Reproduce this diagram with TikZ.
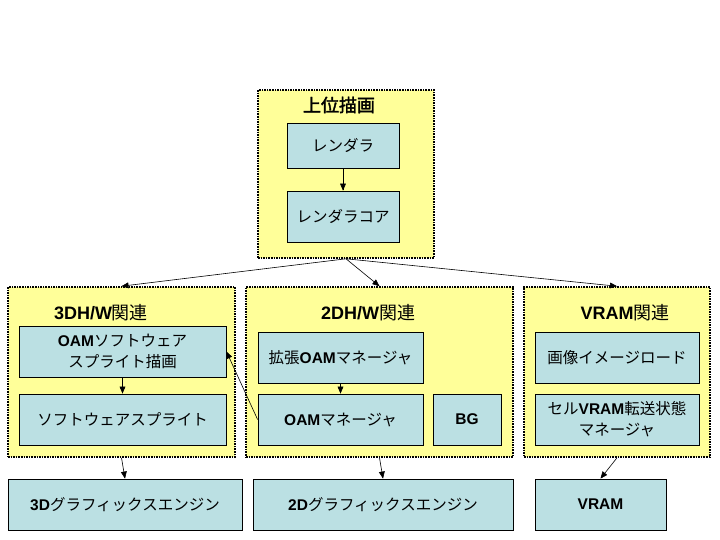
\documentclass[tikz,border=0pt]{standalone}
\usepackage{fontspec}
\setmainfont{Noto Sans CJK JP}[AutoFakeBold=2]
\newfontfamily\latinfont{Liberation Sans}
\usepackage{tikz}
\usetikzlibrary{arrows}
\definecolor{grpyellow}{HTML}{FFFF99}
\definecolor{itemblue}{HTML}{BBE0E3}
\newcommand{\en}[1]{{\latinfont\bfseries #1}}
\tikzset{%
  myedge/.style={->, >=triangle 45, line width=0.6pt},
  grpbox/.style={draw=black, densely dotted, line width=1.6pt, fill=grpyellow, inner sep=0pt},
  itembox/.style={draw=black, line width=0.8pt, fill=itemblue, align=center, inner sep=0pt,
    font=\fontsize{15.5}{21}\selectfont},
  grptitle/.style={font=\fontsize{18}{21}\selectfont}
}

\begin{document}
\begin{tikzpicture}[x=1pt, y=-1pt]
  \useasboundingbox (0,0) rectangle (720,540);

% グループ
\node [grpbox, minimum width=176, minimum height=168] (G0) at (346,174) {};
\node [grpbox, minimum width=227, minimum height=170] (G3) at (121.5,372) {};
\node [grpbox, minimum width=267, minimum height=170] (G2) at (379.5,372) {};
\node [grpbox, minimum width=186, minimum height=170] (GV) at (617,372) {};

\node [grptitle] at (339,105) {\bfseries 上位描画};
\node [grptitle] at (101,313) {\en{3DH/W}関連};
\node [grptitle] at (368,313) {\en{2DH/W}関連};
\node [grptitle] at (625,313) {\en{VRAM}関連};

% 上位描画
\node [itembox, minimum width=112, minimum height=45] (R1) at (343,145.5) {レンダラ};
\node [itembox, minimum width=112, minimum height=51] (R2) at (343,216.5) {レンダラコア};

% 3D
\node [itembox, minimum width=207, minimum height=51] (S1) at (122.5,351.5) {\en{OAM}ソフトウェア\\スプライト描画};
\node [itembox, minimum width=207, minimum height=51] (S2) at (122.5,419.5) {ソフトウェアスプライト};

% 2D
\node [itembox, minimum width=165, minimum height=51] (M1) at (340.5,357.5) {拡張\en{OAM}マネージャ};
\node [itembox, minimum width=165, minimum height=51] (M2) at (340.5,419.5) {\en{OAM}マネージャ};
\node [itembox, minimum width=68, minimum height=51] (BG) at (467,419.5) {\en{BG}};

% VRAM
\node [itembox, minimum width=164, minimum height=51] (V1) at (617,357.5) {画像イメージロード};
\node [itembox, minimum width=164, minimum height=51] (V2) at (617,419.5) {セル\en{VRAM}転送状態\\マネージャ};

% エンジン
\node [itembox, minimum width=234, minimum height=51] (E3) at (125,504.5) {\en{3D}グラフィックスエンジン};
\node [itembox, minimum width=260, minimum height=51] (E2) at (383,504.5) {\en{2D}グラフィックスエンジン};
\node [itembox, minimum width=131, minimum height=51] (EV) at (600.5,504.5) {\en{VRAM}};

% 矢印
\draw [myedge] (R1) -- (R2);
\draw [myedge] (S1) -- (S2);
\draw [myedge] (M1) -- (M2);
\draw [myedge] (M2.west) -- (S1.east);

\draw [myedge] (G0.south) -- (G3.north);
\draw [myedge] (G0.south) -- (G2.north);
\draw [myedge] (G0.south) -- (GV.north);

\draw [myedge] (G3.south) -- (E3.north);
\draw [myedge] (G2.south) -- (E2.north);
\draw [myedge] (GV.south) -- (EV.north);
\end{tikzpicture}
\end{document}
